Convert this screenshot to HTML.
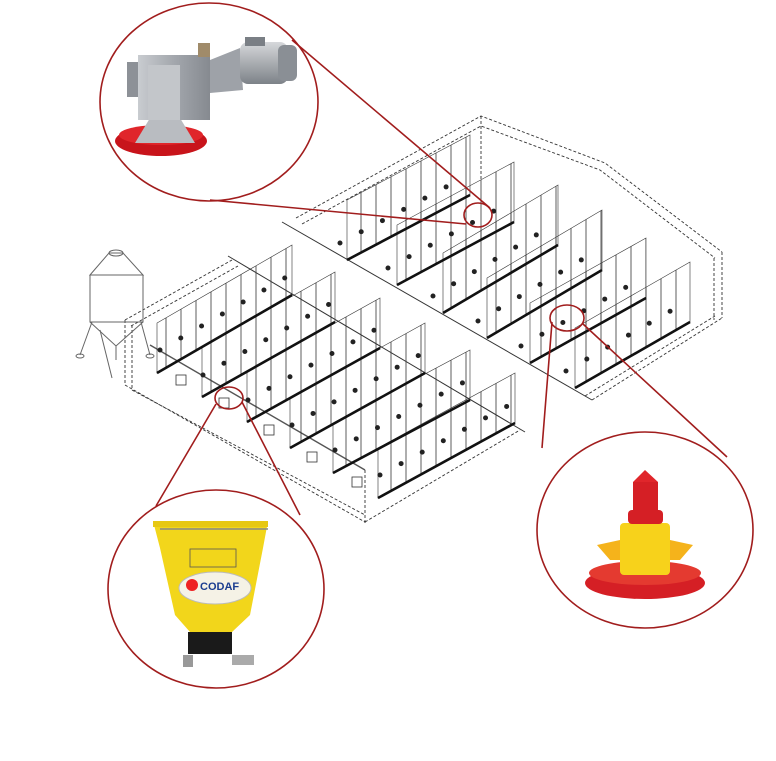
<!DOCTYPE html>
<html><head><meta charset="utf-8"><style>
html,body{margin:0;padding:0;background:#fff;width:776px;height:761px;overflow:hidden}
svg{display:block}
</style></head><body>
<svg width="776" height="761" viewBox="0 0 776 761" xmlns="http://www.w3.org/2000/svg">
<defs>
<pattern id="posts" patternUnits="userSpaceOnUse" width="15" height="10">
<line x1="1" y1="0" x2="1" y2="10" stroke="#333" stroke-width="0.8"/>
</pattern>
<linearGradient id="metal" x1="0" x2="1"><stop offset="0" stop-color="#c9ccd0"/><stop offset="0.5" stop-color="#a3a7ad"/><stop offset="1" stop-color="#868a90"/></linearGradient>
<linearGradient id="mot" x1="0" y1="0" x2="0" y2="1"><stop offset="0" stop-color="#d6d8db"/><stop offset="1" stop-color="#7d8288"/></linearGradient>
</defs>
<g fill="none" stroke="#333" stroke-width="0.9" stroke-dasharray="3,2">
<path d="M296,218 L481,116 L605,163 L722,252 M302,224 L481,126 L600,170 L715,258"/>
<path d="M481,116 V180 M722,252 V318 M714,258 V320"/>
<path d="M592,400 L722,318 M585,396 L715,316"/>
<path d="M125,320 L232,260 M131,326 L238,266"/>
<path d="M125,320 V385 M132,325 V388 M365,470 V525"/>
<path d="M125,385 L365,522 M132,390 L365,515 M365,522 L520,430"/>
</g>
<g fill="none" stroke="#333" stroke-width="1">
<path d="M282,222 L592,400"/>
<path d="M228,256 L525,432"/>
<path d="M150,345 L365,470" stroke-width="1.4" stroke="#555"/>
</g>
<g fill="url(#posts)" stroke="#333" stroke-width="0.6">
<polygon points="347,260 470,195 470,135 347,200"/>
<polygon points="397,285 514,222 514,162 397,225"/>
<polygon points="443,313 558,245 558,185 443,253"/>
<polygon points="487,338 602,270 602,210 487,278"/>
<polygon points="530,363 646,298 646,238 530,303"/>
<polygon points="575,388 690,322 690,262 575,328"/>
<polygon points="157,373 292,295 292,245 157,323"/>
<polygon points="202,397 335,322 335,272 202,347"/>
<polygon points="247,422 380,348 380,298 247,372"/>
<polygon points="290,448 425,373 425,323 290,398"/>
<polygon points="333,473 470,400 470,350 333,423"/>
<polygon points="378,498 515,423 515,373 378,448"/>
</g>
<g stroke="#111" stroke-width="2.6">
<path d="M347,260L470,195 M397,285L514,222 M443,313L558,245 M487,338L602,270 M530,363L646,298 M575,388L690,322"/>
<path d="M157,373L292,295 M202,397L335,322 M247,422L380,348 M290,448L425,373 M333,473L470,400 M378,498L515,423"/>
</g>
<g stroke="#222" stroke-width="5" stroke-linecap="round" stroke-dasharray="0,24" fill="none">
<path d="M340,243L463,178 M388,268L505,205 M433,296L548,228 M478,321L593,253 M521,346L637,281 M566,371L681,305"/>
<path d="M160,350L290,275 M203,375L333,302 M248,400L378,328 M292,425L423,353 M335,450L468,380 M380,475L513,403"/>
</g>
<g fill="#fff" stroke="#333" stroke-width="0.8">
<rect x="176" y="375" width="10" height="10"/>
<rect x="219" y="398" width="10" height="10"/>
<rect x="264" y="425" width="10" height="10"/>
<rect x="307" y="452" width="10" height="10"/>
<rect x="352" y="477" width="10" height="10"/>
</g>
<g fill="none" stroke="#666" stroke-width="1">
<ellipse cx="116" cy="253" rx="7" ry="3"/>
<path d="M90 275 L109 253 L123 253 L143 275 Z"/>
<path d="M90 275 L90 322 L143 322 L143 275"/>
<path d="M90 322 L116 346 L143 322"/>
<path d="M92 322 L80 355 M141 322 L150 355 M116 346 L116 360 M100 330 L112 378"/>
<ellipse cx="80" cy="356" rx="4" ry="2"/><ellipse cx="150" cy="356" rx="4" ry="2"/>
</g>
<g fill="#fff">
<ellipse cx="209" cy="102" rx="109" ry="99"/>
<ellipse cx="645" cy="530" rx="108" ry="98"/>
<ellipse cx="216" cy="589" rx="108" ry="99"/>
</g>
<g fill="none" stroke="#a11d1d" stroke-width="1.6">
<ellipse cx="209" cy="102" rx="109" ry="99"/>
<ellipse cx="645" cy="530" rx="108" ry="98"/>
<ellipse cx="216" cy="589" rx="108" ry="99"/>
<ellipse cx="478" cy="215" rx="14" ry="12"/>
<ellipse cx="567" cy="318" rx="17" ry="13"/>
<ellipse cx="229" cy="398" rx="14" ry="11"/>
<path d="M292 40 L490 208 M210 200 L466 224"/>
<path d="M552 322 L542 448 M583 324 L727 457"/>
<path d="M216 404 L156 506 M242 402 L300 515"/>
</g>
<g>
<ellipse cx="161" cy="141" rx="46" ry="15" fill="#c8141b"/>
<ellipse cx="161" cy="135" rx="42" ry="10" fill="#e0262b"/>
<polygon points="135,143 150,118 180,118 195,143" fill="#b9bcc1"/>
<rect x="127" y="62" width="16" height="35" fill="#8d9197"/>
<rect x="138" y="55" width="72" height="65" fill="url(#metal)"/>
<rect x="148" y="65" width="32" height="55" fill="#c3c6ca"/>
<rect x="198" y="43" width="12" height="14" fill="#a08b6a"/>
<polygon points="210,60 240,48 243,90 210,93" fill="#9ea2a8"/>
<rect x="240" y="42" width="48" height="42" rx="8" fill="url(#mot)"/>
<rect x="278" y="45" width="19" height="36" rx="6" fill="#8a8f95"/>
<rect x="245" y="37" width="20" height="9" fill="#7a7f85"/>
</g>
<g>
<polygon points="153,521 268,521 263,548 250,615 232,632 190,632 175,615 160,548" fill="#f2d61b"/>
<rect x="153" y="521" width="115" height="6" fill="#e7c812"/>
<line x1="160" y1="529" x2="268" y2="529" stroke="#888" stroke-width="1.5"/>
<rect x="190" y="549" width="46" height="18" fill="none" stroke="#555" stroke-width="0.8"/>
<ellipse cx="215" cy="588" rx="36" ry="16" fill="#f5f2e6" stroke="#bbb"/>
<circle cx="192" cy="585" r="6" fill="#e22"/>
<text x="200" y="590" font-family="Liberation Sans,sans-serif" font-size="11" font-weight="bold" fill="#1b3d8f">CODAF</text>
<rect x="188" y="632" width="44" height="22" fill="#1a1a1a"/>
<rect x="183" y="655" width="10" height="12" fill="#999"/>
<rect x="232" y="655" width="22" height="10" fill="#aaa"/>
</g>
<g>
<ellipse cx="645" cy="583" rx="60" ry="16" fill="#d51f25"/>
<ellipse cx="645" cy="573" rx="56" ry="12" fill="#e43a30"/>
<polygon points="597,545 620,540 670,540 693,545 680,560 610,560" fill="#f5b31b"/>
<rect x="620" y="523" width="50" height="52" rx="4" fill="#f7d21b"/>
<rect x="628" y="510" width="35" height="14" rx="4" fill="#d51f25"/>
<rect x="633" y="482" width="25" height="31" fill="#d51f25"/>
<polygon points="633,482 645,470 658,482" fill="#e0262b"/>
</g>
</svg>
</body></html>
